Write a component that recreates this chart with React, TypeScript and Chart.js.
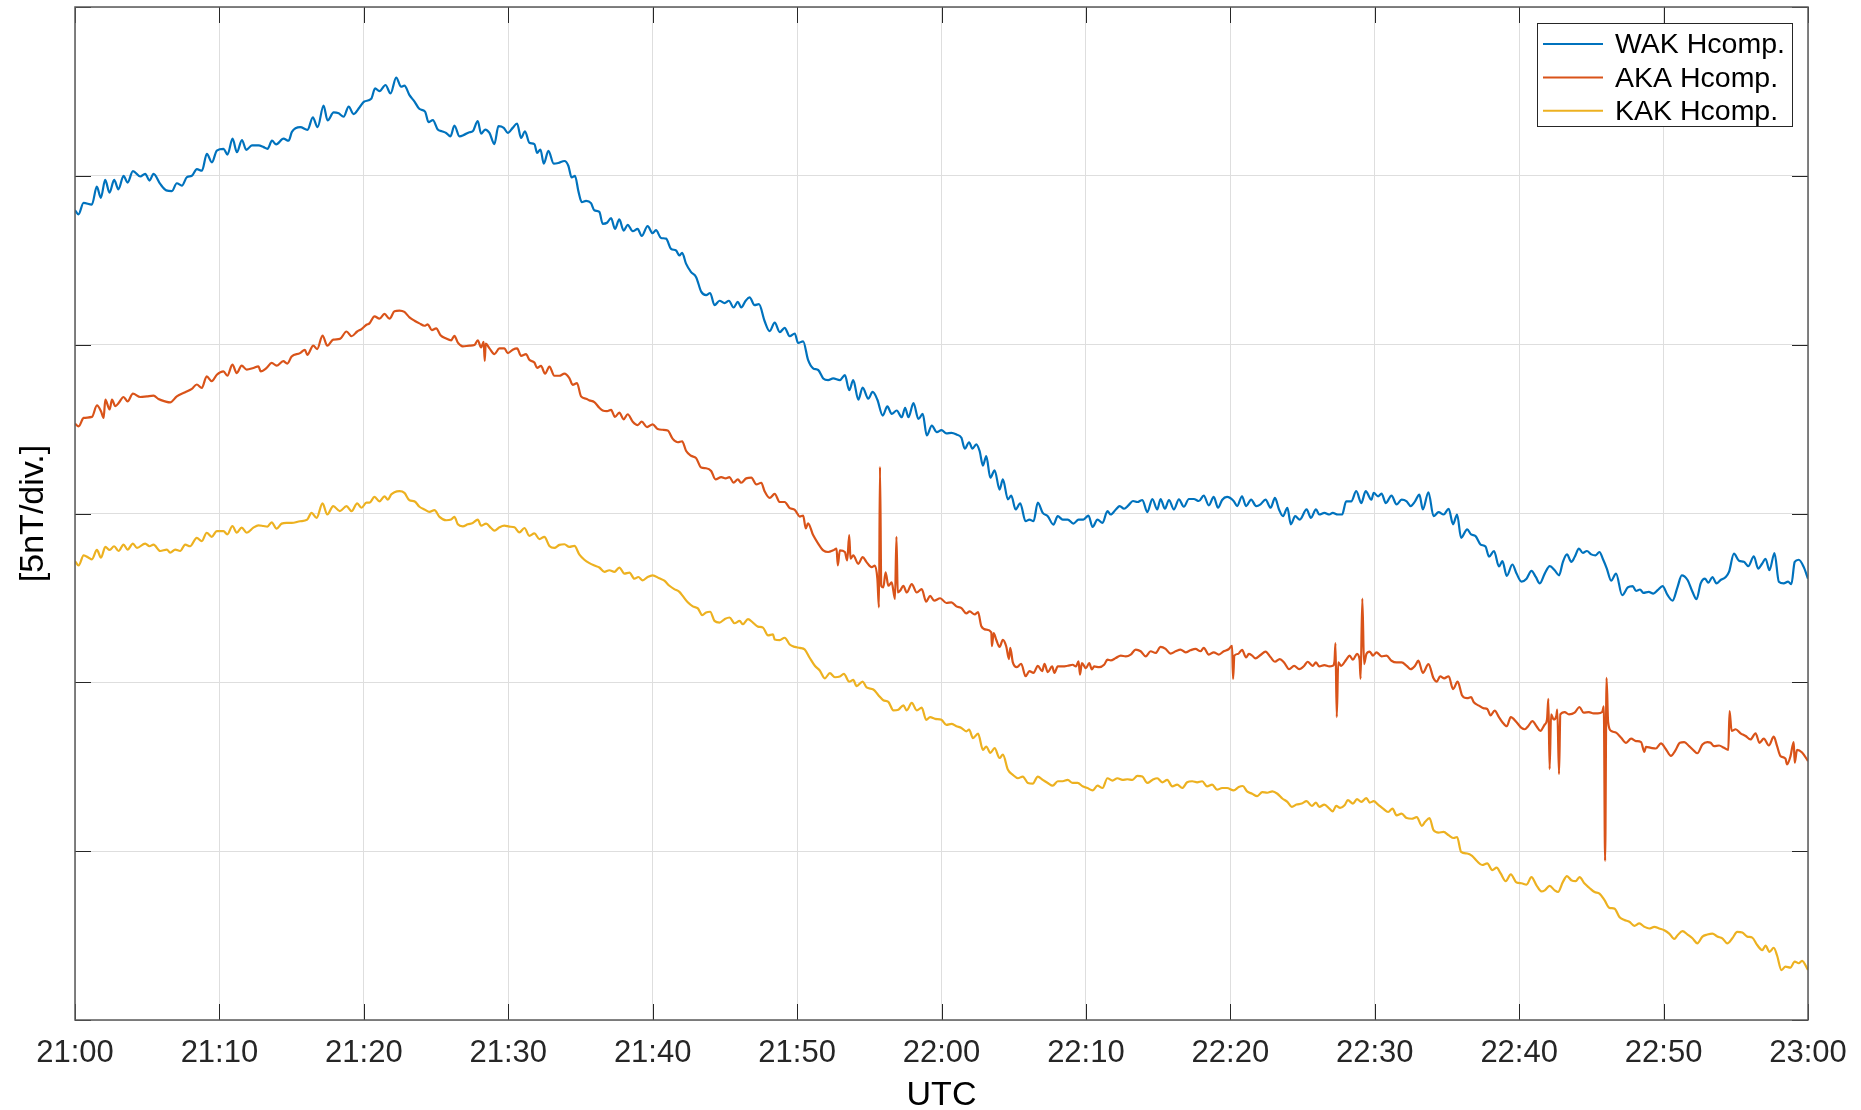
import React, { useEffect, useRef } from "react";
import { Chart, registerables } from "chart.js";

Chart.register(...registerables);

// ---- axis / label data ----
const X_TICK_MINUTES = [0, 10, 20, 30, 40, 50, 60, 70, 80, 90, 100, 110, 120];
const X_TICK_LABELS = ["21:00", "21:10", "21:20", "21:30", "21:40", "21:50", "22:00", "22:10", "22:20", "22:30", "22:40", "22:50", "23:00"];
const Y_MIN = 0;
const Y_MAX = 30;
const Y_STEP = 5;
const X_TITLE = "UTC";
const Y_TITLE = "[5nT/div.]";
const SERIES_NAMES = ["WAK Hcomp.", "AKA Hcomp.", "KAK Hcomp."];
const SERIES_COLORS = ["#0072BD", "#D95319", "#EDB120"];

// ---- WAK (minutes after 21:00, nT offset) ----
const wakTime = [0,0.24,0.59,1.17,1.51,1.79,2.09,2.39,2.71,3.01,3.36,3.64,4.01,4.52,4.86,5.16,5.44,5.9,6.32,6.71,7.05,7.4,7.75,8.09,8.44,8.79,9.13,9.48,9.82,10.29,10.56,10.91,11.21,11.56,11.86,12.25,12.71,13.06,13.33,13.64,13.93,14.44,14.79,15.02,15.6,16.1,16.47,16.8,17.21,17.49,17.91,18.26,18.6,18.95,19.29,19.71,20.03,20.51,20.78,21.08,21.5,21.85,22.24,22.58,22.81,23.16,23.51,23.85,24.24,24.48,24.78,25.12,25.4,25.7,26.0,26.27,26.62,26.97,27.31,27.54,27.89,28.12,28.4,28.7,29.04,29.32,29.69,29.97,30.31,30.61,30.89,31.16,31.46,31.81,32.0,32.23,32.46,32.78,33.15,33.47,33.89,34.16,34.39,34.62,34.86,35.09,35.39,35.73,35.96,36.31,36.54,36.84,37.12,37.39,37.69,37.99,38.27,38.62,38.96,39.24,39.65,40.0,40.23,40.58,40.93,41.27,41.62,41.85,42.04,42.31,42.66,43.01,43.36,43.7,43.98,44.28,44.63,44.98,45.28,45.6,45.9,46.13,46.44,46.71,47.06,47.36,47.75,48.1,48.45,48.8,49.14,49.49,49.84,50.07,50.42,50.76,51.11,51.46,51.81,52.15,52.5,52.96,53.31,53.61,53.89,54.24,54.54,54.93,55.23,55.56,55.93,56.25,56.55,56.9,57.25,57.48,57.71,58.06,58.4,58.7,58.98,59.33,59.68,60.0,60.34,60.69,61.03,61.38,61.61,61.91,62.14,62.41,62.64,62.87,63.1,63.38,63.68,64.02,64.25,64.6,64.83,65.13,65.45,65.82,66.09,66.37,66.67,67.01,67.36,67.75,68.05,68.39,68.74,69.13,69.49,69.82,70.18,70.46,70.8,71.15,71.49,71.72,72.07,72.34,72.64,72.94,73.26,73.56,73.91,74.25,74.6,74.94,75.17,75.47,75.75,76.09,76.44,76.78,77.13,77.47,77.82,78.16,78.51,78.85,79.15,79.43,79.77,80.23,80.47,80.81,81.09,81.44,81.79,82.09,82.44,82.79,83.09,83.37,83.65,83.95,84.19,84.49,84.81,85.28,85.58,85.93,86.16,86.51,86.86,87.09,87.44,87.74,88.02,88.37,88.72,89.07,89.37,89.77,89.93,90.23,90.47,90.77,91.16,91.51,91.86,92.21,92.49,92.79,93.09,93.33,93.72,94.07,94.42,94.77,95.12,95.42,95.7,95.98,96.4,96.67,96.98,97.33,97.67,97.91,98.26,98.6,98.84,99.14,99.53,99.82,100.16,100.51,100.85,101.15,101.43,101.77,102.12,102.46,102.76,103.03,103.31,103.61,103.84,104.14,104.41,104.69,104.99,105.29,105.56,105.79,106.07,106.37,106.71,107.13,107.52,107.86,108.09,108.37,108.6,108.97,109.29,109.59,109.93,110.28,110.62,110.97,111.26,111.66,112.0,112.28,112.57,112.87,113.1,113.38,113.66,113.95,114.3,114.53,114.87,115.22,115.56,115.86,116.25,116.55,116.83,117.06,117.33,117.68,117.98,118.32,118.62,118.85,119.08,119.36,119.7,120];
const wakValue = [23.98,23.86,24.2,24.15,24.68,24.35,24.88,24.5,24.88,24.6,25.0,24.8,25.14,24.98,25.06,24.86,25.06,24.76,24.57,24.55,24.78,24.71,24.96,25.0,25.2,25.15,25.65,25.4,25.75,25.8,25.63,26.1,25.7,26.06,25.77,25.9,25.9,25.85,25.8,26.04,25.93,26.1,26.04,26.3,26.44,26.36,26.73,26.44,27.08,26.64,26.88,26.85,26.75,27.05,26.83,27.03,27.2,27.28,27.59,27.51,27.69,27.44,27.91,27.64,27.67,27.39,27.2,26.98,26.9,26.59,26.65,26.37,26.32,26.27,26.17,26.49,26.17,26.22,26.29,26.32,26.62,26.25,26.37,26.27,25.94,26.47,26.42,26.27,26.42,26.55,26.12,26.32,25.98,25.94,25.68,25.78,25.36,25.74,25.36,25.38,25.44,25.3,24.95,25.0,24.54,24.22,24.26,24.19,23.98,23.93,23.58,23.61,23.75,23.43,23.71,23.38,23.55,23.36,23.43,23.22,23.51,23.3,23.39,23.16,23.14,22.84,22.79,22.64,22.72,22.4,22.15,22.0,21.57,21.47,21.53,21.17,21.3,21.23,21.3,21.1,21.27,21.1,21.3,21.4,21.17,21.2,20.7,20.4,20.65,20.37,20.5,20.25,20.33,20.05,20.1,19.55,19.3,19.25,19.0,18.95,19.0,18.95,19.1,18.65,18.95,18.37,18.73,18.4,18.6,18.37,17.9,18.17,17.95,18.05,17.85,18.13,17.85,18.27,17.8,17.95,17.31,17.6,17.41,17.47,17.37,17.39,17.34,17.24,16.92,17.11,16.92,17.05,16.85,16.42,16.7,16.06,16.28,15.71,16.01,15.42,15.53,15.12,15.3,14.77,14.82,14.77,15.32,15.02,14.92,14.67,14.92,14.82,14.82,14.7,14.82,14.82,14.94,14.6,14.82,14.72,15.07,14.97,15.12,15.22,15.14,15.24,15.37,15.34,15.4,15.04,15.43,15.12,15.43,15.14,15.4,15.12,15.42,15.2,15.43,15.43,15.37,15.53,15.24,15.49,15.17,15.4,15.49,15.37,15.22,15.51,15.22,15.41,15.22,15.27,15.41,15.17,15.46,15.12,14.92,15.17,14.68,14.92,14.82,15.12,14.87,15.12,14.97,15.02,14.97,15.02,14.97,14.97,15.36,15.36,15.66,15.31,15.66,15.41,15.61,15.51,15.59,15.31,15.53,15.27,15.41,15.36,15.22,15.36,15.56,15.12,15.63,14.92,15.04,14.97,15.14,14.68,14.97,14.28,14.53,14.38,14.33,14.08,14.02,13.72,13.89,13.43,13.59,13.15,13.49,13.22,12.98,13.07,13.3,13.12,12.93,13.22,13.44,13.32,13.17,13.57,13.79,13.57,13.71,13.96,13.83,13.89,13.79,13.76,13.86,13.66,13.37,13.01,13.22,12.58,12.81,12.85,12.71,12.75,12.65,12.68,12.63,12.73,12.85,12.58,12.42,12.83,13.17,13.03,12.68,12.46,12.93,13.07,12.95,13.12,12.93,13.03,13.12,13.27,13.81,13.6,13.57,13.44,13.73,13.37,13.52,13.66,13.32,13.83,12.98,12.93,12.98,12.91,13.57,13.63,13.42,13.07];

// ---- AKA ----
const akaTime = [0,0.25,0.6,1.17,1.52,1.8,1.98,2.1,2.4,2.56,2.79,3.02,3.36,3.64,4.01,4.52,4.98,5.44,5.78,6.24,6.59,7.05,7.63,8.09,8.43,8.78,9.12,9.47,9.82,10.28,10.55,10.9,11.2,11.54,11.89,12.35,12.7,12.86,13.27,13.62,13.96,14.42,14.7,15.0,15.58,15.92,16.08,16.5,16.77,17.14,17.47,17.88,18.34,18.8,19.15,19.54,19.84,20.18,20.39,20.74,21.08,21.43,21.78,22.12,22.47,22.81,23.16,23.51,23.85,24.2,24.43,24.71,25.01,25.31,25.7,26.05,26.27,26.51,26.85,27.31,27.66,27.89,28.12,28.3,28.37,28.44,28.7,29.04,29.39,29.73,29.97,30.31,30.61,30.89,31.23,31.46,31.81,32.0,32.27,32.55,32.85,33.19,33.54,33.89,34.23,34.46,34.76,35.04,35.39,35.62,35.96,36.31,36.54,36.84,37.12,37.39,37.69,37.99,38.27,38.62,38.96,39.24,39.61,40.0,40.35,40.69,41.04,41.39,41.74,42.04,42.31,42.66,43.01,43.36,43.7,44.05,44.35,44.75,45.05,45.32,45.6,45.9,46.13,46.48,46.83,47.18,47.52,47.75,48.1,48.45,48.8,49.14,49.49,49.84,50.19,50.42,50.6,50.76,51.11,51.46,51.81,52.15,52.5,52.73,52.82,52.96,53.31,53.47,53.61,53.7,53.89,54.24,54.54,54.81,55.16,55.39,55.56,55.67,55.74,55.83,55.97,56.13,56.32,56.55,56.78,56.88,56.97,57.13,57.36,57.59,57.94,58.29,58.63,58.94,59.21,59.49,59.91,60.34,60.69,61.03,61.38,61.72,61.95,62.3,62.53,62.76,63.1,63.45,63.49,63.61,63.79,64.02,64.25,64.48,64.67,64.76,64.94,65.22,65.52,65.82,66.09,66.37,66.67,66.97,67.13,67.36,67.66,67.82,68.05,68.39,68.74,69.08,69.31,69.49,69.59,69.72,70.0,70.23,70.41,70.57,70.92,71.26,71.49,71.72,72.07,72.41,72.76,73.1,73.45,73.79,74.14,74.48,74.83,75.17,75.52,75.86,76.21,76.55,76.9,77.24,77.59,77.93,78.16,78.51,78.85,79.2,79.54,79.88,80.12,80.19,80.28,80.53,80.81,81.09,81.28,81.51,81.74,82.09,82.44,82.79,83.09,83.42,83.72,84.07,84.42,84.77,85.12,85.35,85.7,85.93,86.16,86.51,86.86,87.09,87.21,87.28,87.37,87.47,87.67,88.02,88.26,88.49,88.77,88.95,89.02,89.14,89.26,89.42,89.65,89.88,90.12,90.47,90.81,91.16,91.51,91.86,92.21,92.49,92.79,93.02,93.33,93.72,94.07,94.3,94.53,94.81,95.12,95.42,95.74,96.05,96.4,96.67,96.86,97.21,97.56,97.79,98.02,98.3,98.6,98.84,99.14,99.42,99.82,100.16,100.39,100.62,100.92,101.2,101.47,101.77,101.93,102.02,102.11,102.21,102.39,102.57,102.64,102.76,102.85,103.15,103.45,103.84,104.18,104.46,104.83,105.15,105.45,105.75,105.86,105.95,106.05,106.16,106.37,106.71,107.06,107.4,107.75,108.09,108.44,108.67,108.78,109.13,109.47,109.82,110.16,110.51,110.8,111.13,111.43,111.77,112.11,112.34,112.69,113.03,113.26,113.49,113.84,114.18,114.48,114.57,114.71,114.99,115.33,115.68,116.02,116.37,116.64,116.94,117.29,117.63,117.86,118.09,118.44,118.55,118.78,119.01,119.08,119.24,119.59,120];
const akaValue = [17.66,17.58,17.83,17.86,18.2,18.03,17.83,18.37,18.08,18.37,18.18,18.27,18.45,18.32,18.55,18.45,18.47,18.49,18.39,18.32,18.29,18.47,18.59,18.69,18.82,18.72,19.06,18.92,19.11,19.21,19.08,19.41,19.16,19.38,19.26,19.31,19.36,19.21,19.31,19.46,19.38,19.51,19.44,19.65,19.75,19.85,19.7,19.97,19.87,20.27,19.97,20.15,20.17,20.39,20.25,20.39,20.46,20.59,20.63,20.84,20.77,20.91,20.77,20.99,21.01,20.97,20.81,20.71,20.63,20.56,20.6,20.43,20.48,20.28,20.18,20.13,20.26,20.06,19.95,19.97,19.99,20.13,19.92,20.08,19.52,20.03,19.89,19.72,19.89,19.89,19.75,19.85,19.89,19.67,19.72,19.55,19.47,19.31,19.37,19.14,19.35,19.08,19.08,19.14,19.01,18.81,18.86,18.47,18.4,18.35,18.3,18.13,18.05,18.03,18.07,17.86,17.99,17.79,17.94,17.72,17.62,17.72,17.56,17.64,17.5,17.48,17.46,17.21,17.11,17.14,16.86,16.71,16.64,16.36,16.34,16.26,16.01,16.08,16.04,16.08,15.91,16.01,15.91,16.04,16.06,15.86,15.91,15.66,15.46,15.58,15.34,15.34,15.16,15.11,14.91,14.94,14.56,14.71,14.36,14.11,13.91,13.86,13.91,13.96,13.46,13.91,13.86,13.61,14.36,13.66,13.76,13.51,13.71,13.56,13.41,13.46,13.06,12.22,16.38,12.86,12.81,13.26,12.86,12.96,12.47,14.31,12.66,12.71,12.86,12.66,12.91,12.66,12.76,12.39,12.56,12.42,12.49,12.35,12.37,12.25,12.2,12.04,12.1,12.01,12.08,11.66,11.56,11.48,11.07,11.46,11.26,11.05,11.26,11.07,10.69,11.02,10.59,10.45,10.55,10.18,10.33,10.28,10.49,10.33,10.55,10.3,10.47,10.28,10.47,10.47,10.49,10.52,10.47,10.62,10.23,10.57,10.42,10.57,10.38,10.47,10.45,10.52,10.67,10.65,10.72,10.79,10.77,10.82,10.97,10.92,10.77,10.92,10.87,11.05,10.99,10.85,10.92,10.97,10.89,10.95,10.99,10.92,11.02,10.82,10.89,10.82,10.92,10.98,11.08,10.1,10.79,10.84,10.96,10.74,10.84,10.79,10.71,10.81,10.91,10.74,10.61,10.69,10.59,10.39,10.49,10.39,10.49,10.61,10.49,10.59,10.47,10.51,10.47,10.49,10.61,11.16,8.97,10.59,10.49,10.67,10.79,10.67,10.84,10.67,10.1,12.48,10.54,10.84,10.91,10.79,10.89,10.77,10.79,10.64,10.59,10.59,10.49,10.39,10.49,10.64,10.28,10.54,10.12,10.02,10.18,10.12,10.18,9.8,10.02,9.61,9.53,9.56,9.41,9.31,9.23,9.21,9.02,9.16,8.97,8.82,8.7,8.97,8.82,8.65,8.61,8.7,8.85,8.7,8.56,8.75,8.9,9.51,7.43,9.05,8.9,9.0,9.19,7.28,9.05,9.12,9.05,9.1,9.27,9.1,9.12,9.08,9.08,9.12,9.29,4.71,10.13,8.82,8.56,8.51,8.36,8.21,8.33,8.26,8.23,7.94,8.09,8.06,8.04,8.19,8.02,7.82,7.97,8.21,8.23,8.11,7.97,7.9,8.16,8.23,8.21,8.11,8.13,8.06,8.0,9.15,8.56,8.61,8.49,8.41,8.31,8.49,8.21,8.33,8.13,8.39,8.11,7.82,7.74,7.57,7.8,8.23,7.62,8.0,7.92,7.67];

// ---- KAK ----
const kakTime = [0,0.25,0.6,0.94,1.17,1.52,1.8,2.1,2.4,2.71,3.02,3.36,3.64,4.01,4.29,4.86,5.16,5.44,5.9,6.36,6.59,6.94,7.28,7.63,7.97,8.43,8.78,9.12,9.47,9.82,10.28,10.55,10.9,11.2,11.54,11.89,12.35,12.7,13.04,13.32,13.62,13.96,14.31,14.65,15.0,15.58,16.08,16.38,16.73,17.14,17.47,17.88,18.34,18.8,19.15,19.54,19.84,20.18,20.39,20.74,21.08,21.43,21.66,21.89,22.12,22.47,22.81,23.16,23.51,23.85,24.2,24.54,24.89,25.24,25.7,26.04,26.27,26.51,26.85,27.2,27.54,27.89,28.12,28.47,28.81,29.04,29.39,29.73,30.08,30.43,30.77,31.12,31.46,31.81,32.16,32.5,32.85,33.19,33.54,33.89,34.23,34.58,34.93,35.27,35.62,35.96,36.31,36.66,37.0,37.35,37.69,38.04,38.39,38.73,39.01,39.31,39.65,40.0,40.46,40.81,41.16,41.5,41.85,42.08,42.43,42.78,43.13,43.43,43.7,43.98,44.28,44.63,44.98,45.32,45.67,46.02,46.25,46.6,46.94,47.29,47.64,47.99,48.33,48.45,48.8,49.14,49.49,49.84,50.19,50.53,50.88,51.23,51.57,51.92,52.27,52.62,52.96,53.24,53.61,53.89,54.12,54.54,54.81,55.28,55.63,55.97,56.32,56.67,57.01,57.36,57.59,57.94,58.29,58.63,58.94,59.21,59.56,60.0,60.34,60.69,61.03,61.38,61.72,61.91,62.18,62.53,62.87,63.1,63.38,63.68,64.02,64.25,64.6,64.94,65.29,65.63,65.98,66.32,66.67,67.01,67.36,67.7,68.05,68.39,68.74,69.08,69.43,69.77,70.11,70.46,70.8,71.15,71.49,71.84,72.18,72.53,72.87,73.22,73.56,73.91,74.25,74.6,74.94,75.29,75.63,75.98,76.32,76.67,77.01,77.36,77.7,78.05,78.39,78.74,79.08,79.43,79.77,80.23,80.58,80.86,81.16,81.51,81.86,82.21,82.56,82.91,83.26,83.6,83.95,84.26,84.58,84.95,85.28,85.65,85.93,86.16,86.51,86.86,87.09,87.33,87.6,87.91,88.14,88.49,88.77,89.07,89.42,89.65,89.93,90.23,90.58,90.93,91.23,91.51,91.86,92.21,92.56,92.91,93.26,93.49,93.79,94.07,94.42,94.77,95.12,95.47,95.7,95.98,96.4,96.74,97.09,97.44,97.79,98.14,98.44,98.72,99.07,99.42,99.82,100.16,100.51,100.85,101.2,101.54,101.77,102.11,102.46,102.69,103.03,103.31,103.61,103.91,104.18,104.53,104.87,105.22,105.56,105.91,106.25,106.6,106.94,107.29,107.63,107.98,108.32,108.67,109.01,109.36,109.7,110.05,110.39,110.74,110.97,111.31,111.66,112.0,112.34,112.69,113.03,113.38,113.72,114.07,114.41,114.76,115.1,115.45,115.79,116.14,116.48,116.83,117.06,117.33,117.63,117.86,118.16,118.44,118.78,119.08,119.36,119.59,120];
const kakValue = [13.59,13.46,13.76,13.69,13.64,13.92,13.69,14.01,13.92,14.03,13.89,14.08,13.93,14.11,13.98,14.11,14.03,14.08,13.89,13.93,13.84,13.93,13.89,14.08,14.03,14.28,14.18,14.43,14.31,14.48,14.48,14.38,14.63,14.43,14.58,14.43,14.58,14.65,14.63,14.61,14.74,14.55,14.7,14.72,14.72,14.77,14.82,15.02,14.87,15.3,14.97,15.22,15.07,15.22,15.07,15.3,15.17,15.32,15.32,15.49,15.36,15.51,15.41,15.56,15.63,15.66,15.61,15.39,15.36,15.2,15.12,15.05,15.1,14.9,14.8,14.82,14.9,14.68,14.62,14.68,14.72,14.82,14.64,14.7,14.57,14.49,14.59,14.64,14.61,14.59,14.44,14.57,14.34,14.41,14.24,14.31,14.04,13.98,14.07,14.09,14.01,14.04,13.78,13.63,13.53,13.46,13.4,13.27,13.32,13.27,13.4,13.22,13.25,13.07,13.12,13.02,13.12,13.17,13.08,13.01,12.86,12.76,12.68,12.56,12.37,12.25,12.19,11.99,12.07,12.09,11.82,11.77,11.87,11.92,11.75,11.82,11.72,11.87,11.77,11.65,11.62,11.39,11.42,11.27,11.25,11.32,11.12,11.05,11.02,10.97,10.72,10.49,10.35,10.12,10.27,10.15,10.17,10.25,10.02,10.07,9.89,10.02,9.85,9.79,9.62,9.47,9.42,9.17,9.19,9.32,9.17,9.39,9.17,9.25,8.89,8.97,8.92,8.89,8.74,8.77,8.7,8.65,8.55,8.6,8.35,8.48,8.0,8.1,7.91,8.05,7.76,7.86,7.41,7.26,7.16,7.21,7.02,7.0,7.21,7.11,7.02,6.94,7.07,7.07,7.11,7.02,7.02,6.92,6.87,6.8,6.94,6.87,7.16,7.09,7.16,7.11,7.13,7.11,7.23,7.21,7.02,7.11,7.16,7.04,7.11,6.92,6.97,6.87,7.04,7.07,7.04,7.07,6.92,6.97,6.82,6.87,6.87,6.8,6.9,6.93,6.77,6.7,6.63,6.75,6.73,6.77,6.7,6.56,6.46,6.31,6.38,6.41,6.48,6.34,6.44,6.31,6.38,6.26,6.18,6.34,6.28,6.36,6.51,6.41,6.54,6.46,6.57,6.44,6.48,6.38,6.26,6.16,6.26,6.06,6.11,5.98,5.96,6.01,5.75,5.87,5.98,5.62,5.55,5.57,5.47,5.39,5.42,4.98,4.93,4.86,4.7,4.59,4.64,4.44,4.51,4.34,4.11,4.31,4.07,4.05,4.01,4.23,3.99,3.81,3.84,3.97,3.84,3.79,4.09,4.26,4.14,4.11,4.23,4.04,3.91,3.79,3.74,3.55,3.32,3.3,3.05,2.96,2.91,2.79,2.86,2.76,2.71,2.76,2.71,2.66,2.56,2.4,2.51,2.63,2.53,2.42,2.27,2.47,2.53,2.56,2.47,2.42,2.27,2.42,2.61,2.59,2.47,2.44,2.22,2.07,2.2,2.02,2.14,1.91,1.48,1.58,1.55,1.73,1.68,1.75,1.48];

const FONT = "'Liberation Sans', Arial, Helvetica, sans-serif";

const pairs = (t: number[], v: number[]) => t.map((x, i) => ({ x, y: v[i] }));

const matlabFrame = {
  id: "matlabFrame",
  afterDraw(chart: any) {
    const { ctx, chartArea: a } = chart;
    const xs = chart.scales.x;
    const ys = chart.scales.y;
    ctx.save();
    // inward tick marks on all four sides
    const L = 16;
    ctx.strokeStyle = "#262626";
    ctx.lineWidth = 1;
    ctx.beginPath();
    xs.ticks.forEach((t: any) => {
      const px = Math.round(xs.getPixelForValue(t.value)) + 0.5;
      ctx.moveTo(px, a.bottom);
      ctx.lineTo(px, a.bottom - L);
      ctx.moveTo(px, a.top);
      ctx.lineTo(px, a.top + L);
    });
    ys.ticks.forEach((t: any) => {
      const py = Math.round(ys.getPixelForValue(t.value)) + 0.5;
      ctx.moveTo(a.left, py);
      ctx.lineTo(a.left + L, py);
      ctx.moveTo(a.right, py);
      ctx.lineTo(a.right - L, py);
    });
    ctx.stroke();
    // axes box
    ctx.strokeStyle = "#5a5a5a";
    ctx.lineWidth = 1.5;
    ctx.strokeRect(a.left, a.top, a.right - a.left, a.bottom - a.top);

    // legend box (northeast)
    const boxRight = a.right - 16;
    const boxTop = a.top + 16;
    const boxW = 255;
    const boxH = 103;
    const bx = boxRight - boxW;
    ctx.fillStyle = "#ffffff";
    ctx.fillRect(bx, boxTop, boxW, boxH);
    ctx.strokeStyle = "#262626";
    ctx.lineWidth = 1;
    ctx.strokeRect(bx + 0.5, boxTop + 0.5, boxW, boxH);
    const rowH = 33.4;
    ctx.font = `28.5px ${FONT}`;
    ctx.textBaseline = "middle";
    ctx.textAlign = "left";
    chart.data.datasets.forEach((ds: any, i: number) => {
      const cy = boxTop + 21 + i * rowH;
      ctx.strokeStyle = ds.borderColor;
      ctx.lineWidth = 2;
      ctx.beginPath();
      ctx.moveTo(bx + 6, cy);
      ctx.lineTo(bx + 66, cy);
      ctx.stroke();
      ctx.fillStyle = "#000000";
      ctx.fillText(ds.label, bx + 78, cy + 1.5);
    });
    ctx.restore();
  },
};

export default function App() {
  const canvasRef = useRef<HTMLCanvasElement | null>(null);

  useEffect(() => {
    if (!canvasRef.current) return;
    const seriesTimes = [wakTime, akaTime, kakTime];
    const seriesValues = [wakValue, akaValue, kakValue];
    const chart = new Chart(canvasRef.current, {
      type: "line",
      data: {
        datasets: SERIES_NAMES.map((name, i) => ({
          label: name,
          data: pairs(seriesTimes[i], seriesValues[i]),
          borderColor: SERIES_COLORS[i],
          backgroundColor: SERIES_COLORS[i],
          borderWidth: 2.2,
          pointRadius: 0,
          cubicInterpolationMode: "monotone",
          borderJoinStyle: "round",
          fill: false,
        })),
      },
      options: {
        animation: false,
        responsive: false,
        devicePixelRatio: 1,
        layout: { padding: { left: 0, top: 7, right: 53, bottom: 0 } },
        plugins: {
          legend: { display: false },
          tooltip: { enabled: false },
          title: { display: false },
        },
        scales: {
          x: {
            type: "linear",
            min: X_TICK_MINUTES[0],
            max: X_TICK_MINUTES[X_TICK_MINUTES.length - 1],
            afterBuildTicks: (s: any) => {
              s.ticks = X_TICK_MINUTES.map((v) => ({ value: v }));
            },
            afterFit: (s: any) => {
              s.height = 90;
              s.paddingLeft = 0;
              s.paddingRight = 0;
            },
            ticks: {
              autoSkip: false,
              maxRotation: 0,
              minRotation: 0,
              padding: 14.5,
              color: "#262626",
              font: { family: FONT, size: 31 },
              callback: (_v: any, i: number) => X_TICK_LABELS[i],
            },
            grid: { color: "#dedede", lineWidth: 1, drawTicks: false },
            border: { display: false },
            title: {
              display: true,
              text: X_TITLE,
              color: "#000000",
              font: { family: FONT, size: 34, lineHeight: 1 },
              padding: { top: 0, bottom: -2.5 },
            },
          },
          y: {
            type: "linear",
            min: Y_MIN,
            max: Y_MAX,
            afterFit: (s: any) => {
              s.width = 75;
              s.paddingTop = 0;
              s.paddingBottom = 0;
            },
            ticks: { stepSize: Y_STEP, display: false },
            grid: { color: "#dedede", lineWidth: 1, drawTicks: false },
            border: { display: false },
            title: {
              display: true,
              text: Y_TITLE,
              color: "#000000",
              font: { family: FONT, size: 34, lineHeight: 1 },
              padding: { top: 16.5, bottom: 0 },
            },
          },
        },
      },
      plugins: [matlabFrame],
    } as any);
    return () => chart.destroy();
  }, []);

  return (
    <div style={{ position: "fixed", left: 0, top: 0, width: 1861, height: 1110, background: "#ffffff" }}>
      <canvas ref={canvasRef} width={1861} height={1110} style={{ display: "block", width: 1861, height: 1110 }} />
    </div>
  );
}
